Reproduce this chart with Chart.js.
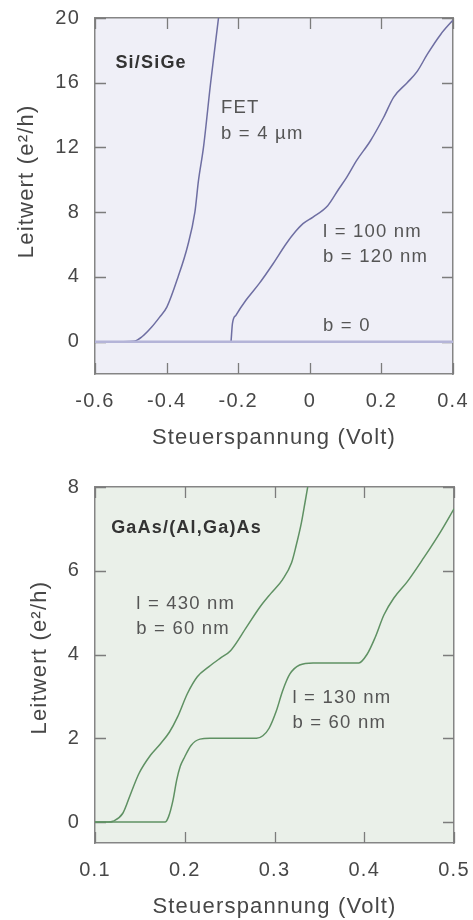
<!DOCTYPE html>
<html>
<head>
<meta charset="utf-8">
<script src="https://cdn.jsdelivr.net/npm/chart.js@4.4.1/dist/chart.umd.min.js"></script>
<style>
  html, body { margin: 0; padding: 0; background: #fff; overflow: hidden; }
  .box { position: absolute; left: 0; width: 473px; height: 460px; }
</style>
</head>
<body>
<div class="box" style="top:0"><canvas id="top" width="473" height="460"></canvas></div>
<div class="box" style="top:460px"><canvas id="bottom" width="473" height="460"></canvas></div>
<script>
// --- Si/SiGe (upper panel) ---
const fetV = [-0.6, -0.52, -0.492, -0.469, -0.441, -0.42, -0.399, -0.368, -0.342, -0.321, -0.311, -0.297, -0.277, -0.255];
const fetG = [0, 0, 0.02, 0.3, 0.92, 1.5, 2.15, 4.0, 5.85, 8.0, 9.95, 12.0, 16.0, 20.0];
const w120V = [-0.22, -0.216, -0.206, -0.178, -0.141, -0.103, -0.066, -0.04, -0.019, 0.009, 0.05, 0.08, 0.103, 0.131, 0.169, 0.206, 0.234, 0.272, 0.3, 0.328, 0.366, 0.399];
const w120G = [0, 1.13, 1.64, 2.57, 3.6, 4.8, 6.05, 6.8, 7.29, 7.7, 8.4, 9.4, 10.15, 11.2, 12.4, 13.85, 15.1, 16.0, 16.7, 17.75, 19.0, 19.85];
const zeroV = [-0.6, 0.4];
const zeroG = [0, 0];
const topXTicks = [-0.6, -0.4, -0.2, 0, 0.2, 0.4];
const topYTicks = [0, 4, 8, 12, 16, 20];
const topNotes = [
  ['Si/SiGe', -0.543, 17.2, true],
  ['FET', -0.248, 14.44, false],
  ['b = 4 µm', -0.248, 12.84, false],
  ['l = 100 nm', 0.037, 6.81, false],
  ['b = 120 nm', 0.037, 5.21, false],
  ['b = 0', 0.037, 0.97, false]
];

// --- GaAs/(Al,Ga)As (lower panel) ---
const l430V = [0.1, 0.115, 0.12, 0.131, 0.14, 0.149, 0.162, 0.173, 0.183, 0.192, 0.203, 0.214, 0.227, 0.24, 0.251, 0.269, 0.284, 0.296, 0.309, 0.319, 0.324, 0.33, 0.334, 0.337];
const l430G = [0, 0, 0.02, 0.21, 0.69, 1.16, 1.6, 1.87, 2.15, 2.51, 3.07, 3.47, 3.71, 3.92, 4.09, 4.66, 5.14, 5.46, 5.79, 6.19, 6.59, 7.15, 7.63, 8.0];
const l130V = [0.1, 0.178, 0.182, 0.187, 0.191, 0.195, 0.2, 0.207, 0.217, 0.228, 0.28, 0.287, 0.294, 0.302, 0.309, 0.317, 0.328, 0.343, 0.394, 0.403, 0.412, 0.422, 0.433, 0.448, 0.466, 0.485, 0.5];
const l130G = [0, 0, 0.13, 0.53, 1.0, 1.33, 1.56, 1.83, 1.98, 2.0, 2.0, 2.06, 2.24, 2.65, 3.13, 3.53, 3.75, 3.8, 3.8, 4.0, 4.4, 4.95, 5.35, 5.74, 6.3, 6.93, 7.48];
const botXTicks = [0.1, 0.2, 0.3, 0.4, 0.5];
const botYTicks = [0, 2, 4, 6, 8];
const botNotes = [
  ['GaAs/(Al,Ga)As', 0.118, 7.03, true],
  ['l = 430 nm', 0.146, 5.22, false],
  ['b = 60 nm', 0.146, 4.6, false],
  ['l = 130 nm', 0.32, 2.96, false],
  ['b = 60 nm', 0.32, 2.36, false]
];

const FONT = '"Liberation Sans", Arial, Helvetica, sans-serif';
Chart.defaults.font.family = FONT;
const frameColor = '#858585';
const textColor = '#474747';

function pts(xs, ys) {
  return xs.map((x, i) => ({ x: x, y: ys[i] }));
}

function fmt(v) {
  return v === 0 ? '0' : String(Math.round(v * 10) / 10);
}

function spacing(px) {
  return {
    id: 'spacing',
    beforeUpdate(chart) { chart.ctx.letterSpacing = px; },
    beforeDraw(chart) { chart.ctx.letterSpacing = px; }
  };
}

function bgPlugin(color) {
  return {
    id: 'bg',
    beforeDraw(chart) {
      const a = chart.chartArea, ctx = chart.ctx;
      ctx.save();
      ctx.fillStyle = color;
      ctx.fillRect(a.left, a.top, a.right - a.left, a.bottom - a.top);
      ctx.restore();
    }
  };
}

// short tick marks pointing into the plot on all four sides
function tickMarks(len) {
  return {
    id: 'tickMarks',
    beforeDatasetsDraw(chart) {
      const ctx = chart.ctx, a = chart.chartArea, x = chart.scales.x, y = chart.scales.y;
      ctx.save();
      ctx.strokeStyle = '#7c7c7c';
      ctx.lineWidth = 1.3;
      ctx.beginPath();
      x.ticks.forEach(t => {
        const px = Math.round(x.getPixelForValue(t.value)) + 0.5;
        ctx.moveTo(px, a.bottom); ctx.lineTo(px, a.bottom - len);
        ctx.moveTo(px, a.top); ctx.lineTo(px, a.top + len);
      });
      y.ticks.forEach(t => {
        const py = Math.round(y.getPixelForValue(t.value)) + 0.5;
        ctx.moveTo(a.left, py); ctx.lineTo(a.left + len, py);
        ctx.moveTo(a.right, py); ctx.lineTo(a.right - len, py);
      });
      ctx.stroke();
      ctx.restore();
    }
  };
}

function notesPlugin(items) {
  return {
    id: 'notes',
    afterDatasetsDraw(chart) {
      const ctx = chart.ctx, x = chart.scales.x, y = chart.scales.y;
      ctx.save();
      ctx.textAlign = 'left';
      ctx.textBaseline = 'middle';
      items.forEach(n => {
        ctx.font = n[3] ? 'bold 18px ' + FONT : '18.5px ' + FONT;
        ctx.fillStyle = n[3] ? '#333333' : '#555555';
        ctx.fillText(n[0], x.getPixelForValue(n[1]), y.getPixelForValue(n[2]));
      });
      ctx.restore();
    }
  };
}

// labelled axis: invisible outward ticks only push the labels away from the frame
function labelAxis(pos, min, max, tickVals, size, title, titlePad) {
  const horiz = pos === 'bottom';
  return {
    type: 'linear', position: pos, min: min, max: max,
    afterBuildTicks: sc => { sc.ticks = tickVals.map(v => ({ value: v })); },
    afterFit: sc => { if (horiz) sc.height = size; else sc.width = size; },
    ticks: { padding: 0, color: textColor, font: { size: 20 }, maxRotation: 0, autoSkip: false, callback: v => fmt(v) },
    grid: { drawOnChartArea: false, drawTicks: true, tickLength: 15, tickColor: 'rgba(0,0,0,0)' },
    border: { display: true, color: frameColor, width: 1.5 },
    title: {
      display: true, text: title, color: textColor, font: { size: 22 },
      padding: horiz ? { top: 0, bottom: titlePad } : { top: titlePad, bottom: 0 }
    }
  };
}

// top and right side of the frame
function frameAxis(pos, min, max) {
  const horiz = pos === 'top';
  return {
    type: 'linear', position: pos, min: min, max: max,
    afterFit: sc => { if (horiz) sc.height = 0; else sc.width = 0; },
    ticks: { display: false, padding: 0 },
    grid: { display: false },
    border: { display: true, color: frameColor, width: 1.5 }
  };
}

function makeChart(id, cfg) {
  return new Chart(document.getElementById(id), {
    type: 'scatter',
    data: { datasets: cfg.series },
    options: {
      responsive: false,
      animation: false,
      events: [],
      layout: { padding: cfg.pad },
      plugins: { legend: { display: false }, tooltip: { enabled: false } },
      elements: { point: { radius: 0 }, line: { cubicInterpolationMode: 'monotone' } },
      scales: {
        x: labelAxis('bottom', cfg.xMin, cfg.xMax, cfg.xTicks, cfg.xAxisH, 'Steuerspannung (Volt)', cfg.xTitlePad),
        x2: frameAxis('top', cfg.xMin, cfg.xMax),
        y: labelAxis('left', cfg.yMin, cfg.yMax, cfg.yTicks, 95, cfg.yTitle, cfg.yTitlePad),
        y2: frameAxis('right', cfg.yMin, cfg.yMax)
      }
    },
    plugins: [spacing('1.2px'), bgPlugin(cfg.bg), tickMarks(11), notesPlugin(cfg.notes)]
  });
}

function line(xs, ys, color, width) {
  return { data: pts(xs, ys), showLine: true, borderColor: color, borderWidth: width, pointRadius: 0, fill: false };
}

// leading no-break spaces nudge the rotated title a little towards the top, as in the original
makeChart('top', {
  series: [
    line(zeroV, zeroG, '#b4b4d8', 2.5),
    line(fetV, fetG, '#6e6ea2', 1.5),
    line(w120V, w120G, '#6e6ea2', 1.5)
  ],
  xMin: -0.6, xMax: 0.4, yMin: -2, yMax: 20,
  xTicks: topXTicks, yTicks: topYTicks,
  xAxisH: 86, xTitlePad: 9, yTitlePad: 14,
  yTitle: '\u00a0\u00a0\u00a0\u00a0Leitwert (e²/h)',
  pad: { left: 0, right: 20, top: 18, bottom: 0 },
  bg: '#efeff7',
  notes: topNotes
});

makeChart('bottom', {
  series: [
    line(l430V, l430G, '#5f9163', 1.5),
    line(l130V, l130G, '#5f9163', 1.5)
  ],
  xMin: 0.1, xMax: 0.5, yMin: -0.5, yMax: 8,
  xTicks: botXTicks, yTicks: botYTicks,
  xAxisH: 77, xTitlePad: 0, yTitlePad: 27,
  yTitle: '\u00a0\u00a0Leitwert (e²/h)',
  pad: { left: 0, right: 19, top: 27, bottom: 0 },
  bg: '#eaf0e9',
  notes: botNotes
});
</script>
</body>
</html>
